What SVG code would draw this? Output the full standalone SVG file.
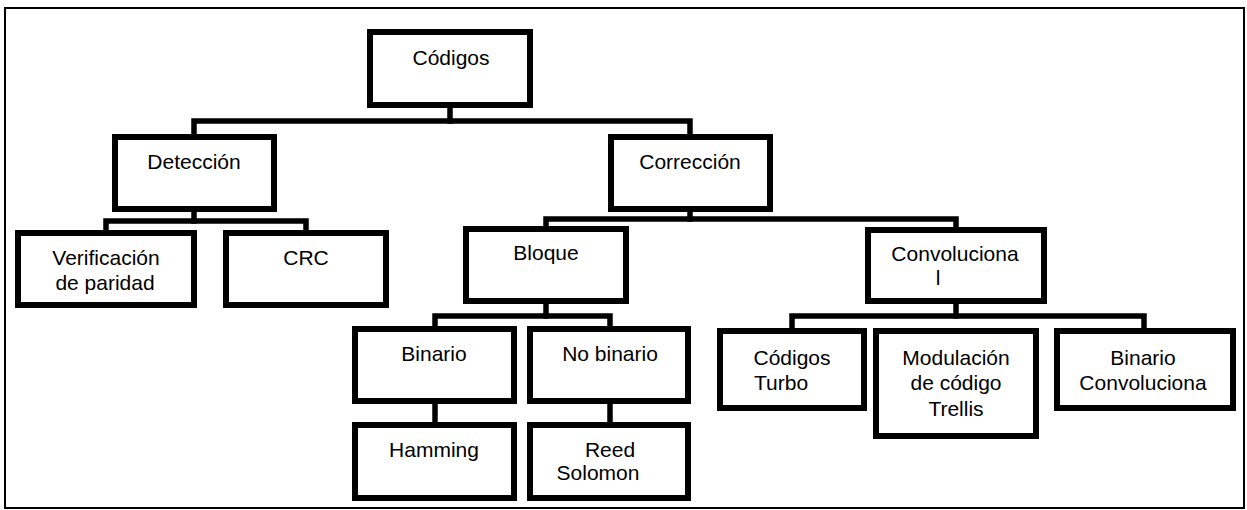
<svg xmlns="http://www.w3.org/2000/svg" width="1247" height="510" viewBox="0 0 1247 510">
  <style>
    .frame { fill: #ffffff; stroke: #000000; stroke-width: 2; }
    .box { fill: #ffffff; stroke: #000000; stroke-width: 6; }
    .link { fill: none; stroke: #000000; stroke-width: 5.5; stroke-linejoin: miter; stroke-linecap: square; }
    text { font-family: "Liberation Sans", Arial, sans-serif; font-size: 21px; fill: #000000; text-anchor: middle; }
    text.left { text-anchor: start; }
  </style>

  <!-- outer frame -->
  <rect class="frame" x="5" y="8" width="1239" height="500"/>

  <!-- tree connectors -->
  <g id="connectors">
    <path class="link" d="M450,108 V121"/>
    <path class="link" d="M194,134 V121 H690 V134"/>
    <path class="link" d="M194,212 V221"/>
    <path class="link" d="M106,230 V221 H306 V230"/>
    <path class="link" d="M690,212 V219"/>
    <path class="link" d="M546,226 V219 H956 V227"/>
    <path class="link" d="M546,304 V316"/>
    <path class="link" d="M435,326 V316 H610 V326"/>
    <path class="link" d="M435,404 V422"/>
    <path class="link" d="M610,404 V422"/>
    <path class="link" d="M956,304 V316"/>
    <path class="link" d="M792,328 V316 H1144 V328"/>
  </g>

  <g id="codigos">
    <rect class="box" x="370" y="32" width="160" height="73"/>
    <text x="451" y="65">Códigos</text>
  </g>

  <g id="deteccion">
    <rect class="box" x="115" y="137" width="159" height="72"/>
    <text x="194" y="169">Detección</text>
  </g>

  <g id="correccion">
    <rect class="box" x="611" y="137" width="159" height="72"/>
    <text x="690" y="169">Corrección</text>
  </g>

  <g id="paridad">
    <rect class="box" x="18" y="233" width="176" height="72"/>
    <text x="106" y="265">Verificación</text>
    <text x="105" y="290">de paridad</text>
  </g>

  <g id="crc">
    <rect class="box" x="226" y="233" width="160" height="72"/>
    <text x="306" y="265">CRC</text>
  </g>

  <g id="bloque">
    <rect class="box" x="466" y="229" width="160" height="72"/>
    <text x="546" y="260">Bloque</text>
  </g>

  <g id="convolucional">
    <rect class="box" x="868" y="230" width="176" height="71"/>
    <text x="955" y="261">Convoluciona</text>
    <text x="938" y="285">l</text>
  </g>

  <g id="binario">
    <rect class="box" x="355" y="329" width="159" height="72"/>
    <text x="434" y="361">Binario</text>
  </g>

  <g id="no-binario">
    <rect class="box" x="530" y="329" width="158" height="72"/>
    <text x="610" y="361">No binario</text>
  </g>

  <g id="hamming">
    <rect class="box" x="355" y="425" width="159" height="73"/>
    <text x="434" y="457">Hamming</text>
  </g>

  <g id="reed-solomon">
    <rect class="box" x="530" y="425" width="158" height="73"/>
    <text x="610" y="457">Reed</text>
    <text x="598" y="480">Solomon</text>
  </g>

  <g id="turbo">
    <rect class="box" x="720" y="331" width="144" height="77"/>
    <text x="792" y="365">Códigos</text>
    <text class="left" x="754" y="390">Turbo</text>
  </g>

  <g id="trellis">
    <rect class="box" x="876" y="331" width="160" height="105"/>
    <text x="956" y="365">Modulación</text>
    <text x="956" y="390">de código</text>
    <text x="956" y="416">Trellis</text>
  </g>

  <g id="binario-convolucional">
    <rect class="box" x="1057" y="331" width="176" height="77"/>
    <text x="1143" y="365">Binario</text>
    <text x="1143" y="390">Convoluciona</text>
  </g>
</svg>
